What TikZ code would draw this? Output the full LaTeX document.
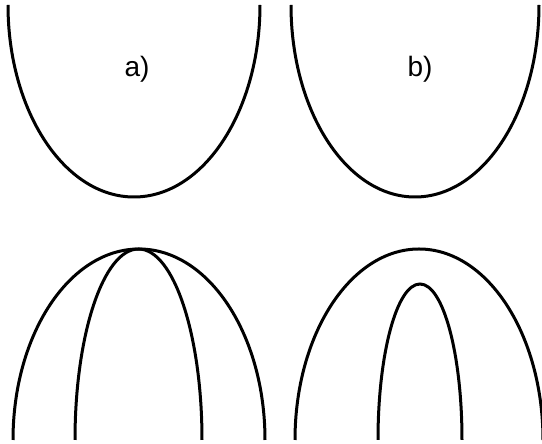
\documentclass[tikz,border=0pt]{standalone}
\usepackage{fontspec}
\setmainfont{Liberation Sans}
\begin{document}
\begin{tikzpicture}[
    x=0.5pt, % one unit is one pixel of the 542x444 frame
    y=0.5pt,
    every node/.style={font=\fontsize{14}{16}\selectfont},
    curve/.style={black, line width=1.5pt}
    ]

% --- Frame ---
\useasboundingbox (0,0) rectangle (542,444);

% --- Top row: open cups ---
% centre x / x radius / y radius, hanging from the top edge
\foreach \cx/\rx/\ry in {134/126/192, 415/124/192} {
    \draw[curve] (\cx-\rx,439) arc[start angle=180, end angle=360, x radius=\rx, y radius=\ry];
}

% --- Bottom row: arches standing on the bottom edge ---
\foreach \cx/\rx/\ry in {139/126/191, 138.5/63.5/191, 419/124/191, 420/42/156} {
    \draw[curve] (\cx-\rx,4) arc[start angle=180, end angle=0, x radius=\rx, y radius=\ry];
}

% --- Labels ---
\node (labelA) at (137,375) {a)};
\node (labelB) at (420,375) {b)};

\end{tikzpicture}
\end{document}
